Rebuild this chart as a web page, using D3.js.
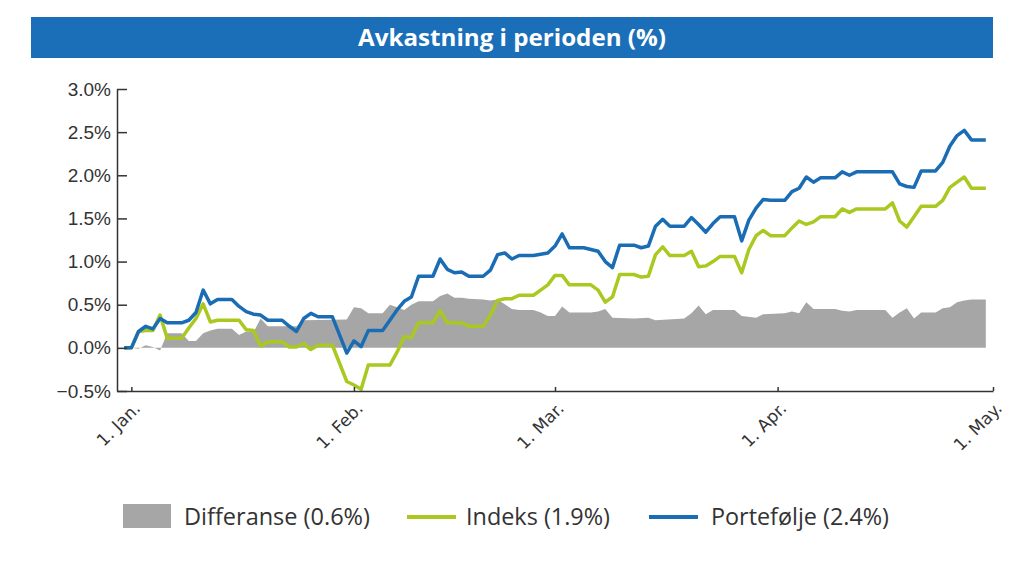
<!DOCTYPE html>
<html>
<head>
<meta charset="utf-8">
<script src="https://cdn.jsdelivr.net/npm/d3@7"></script>
<style>
  body { margin: 0; background: #fff; }
  svg { display: block; }
</style>
</head>
<body>
<svg id="chart" width="1024" height="561"></svg>
<script>
// chart data
const title = "Avkastning i perioden (%)";
const yTicks = [-0.5, 0, 0.5, 1, 1.5, 2, 2.5, 3];
const xTickDates = ["2017-01-01", "2017-02-01", "2017-03-01", "2017-04-01", "2017-05-01"];
const xTickLabels = ["1. Jan.", "1. Feb.", "1. Mar.", "1. Apr.", "1. May."];
const legendLabels = ["Differanse (0.6%)", "Indeks (1.9%)", "Portefølje (2.4%)"];

// Portefølje (blue)
const portDates = [
  "2016-12-31", "2017-01-01", "2017-01-02", "2017-01-03", "2017-01-04", "2017-01-05", "2017-01-06",
  "2017-01-08", "2017-01-09", "2017-01-10", "2017-01-11", "2017-01-12", "2017-01-13", "2017-01-15",
  "2017-01-16", "2017-01-17", "2017-01-18", "2017-01-19", "2017-01-20", "2017-01-22", "2017-01-23",
  "2017-01-24", "2017-01-25", "2017-01-26", "2017-01-27", "2017-01-29", "2017-01-31", "2017-02-01",
  "2017-02-02", "2017-02-03", "2017-02-05", "2017-02-07", "2017-02-08", "2017-02-09", "2017-02-10",
  "2017-02-12", "2017-02-13", "2017-02-14", "2017-02-15", "2017-02-16", "2017-02-17", "2017-02-19",
  "2017-02-20", "2017-02-21", "2017-02-22", "2017-02-23", "2017-02-24", "2017-02-26", "2017-02-28",
  "2017-03-01", "2017-03-02", "2017-03-03", "2017-03-05", "2017-03-07", "2017-03-08", "2017-03-09",
  "2017-03-10", "2017-03-12", "2017-03-13", "2017-03-14", "2017-03-15", "2017-03-16", "2017-03-17",
  "2017-03-19", "2017-03-20", "2017-03-21", "2017-03-22", "2017-03-23", "2017-03-24", "2017-03-26",
  "2017-03-27", "2017-03-28", "2017-03-29", "2017-03-30", "2017-03-31", "2017-04-02", "2017-04-03",
  "2017-04-04", "2017-04-05", "2017-04-06", "2017-04-07", "2017-04-09", "2017-04-10", "2017-04-11",
  "2017-04-12", "2017-04-17", "2017-04-18", "2017-04-19", "2017-04-20", "2017-04-21", "2017-04-23",
  "2017-04-24", "2017-04-25", "2017-04-26", "2017-04-27", "2017-04-28", "2017-04-30"
];
const portValues = [
  0.00, 0.00, 0.19, 0.25, 0.22, 0.34, 0.29,
  0.29, 0.32, 0.41, 0.67, 0.51, 0.56, 0.56,
  0.48, 0.42, 0.39, 0.38, 0.32, 0.32, 0.25,
  0.19, 0.34, 0.40, 0.36, 0.36, -0.06, 0.08,
  0.015, 0.20, 0.20, 0.44, 0.54, 0.59, 0.83,
  0.83, 1.03, 0.91, 0.87, 0.88, 0.83, 0.83,
  0.90, 1.08, 1.10, 1.03, 1.07, 1.07, 1.10,
  1.18, 1.32, 1.16, 1.16, 1.12, 1.00, 0.93,
  1.19, 1.19, 1.16, 1.18, 1.41, 1.49, 1.41,
  1.41, 1.51, 1.43, 1.34, 1.44, 1.52, 1.52,
  1.24, 1.48, 1.62, 1.72, 1.71, 1.71, 1.81,
  1.85, 1.98, 1.92, 1.97, 1.97, 2.04, 2.00,
  2.04, 2.04, 1.90, 1.87, 1.86, 2.05, 2.05,
  2.15, 2.34, 2.46, 2.52, 2.41, 2.41
];

// Indeks (green)
const indexDates = [
  "2016-12-31", "2017-01-01", "2017-01-02", "2017-01-03", "2017-01-04", "2017-01-05", "2017-01-06",
  "2017-01-08", "2017-01-09", "2017-01-10", "2017-01-11", "2017-01-12", "2017-01-13", "2017-01-16",
  "2017-01-17", "2017-01-18", "2017-01-19", "2017-01-20", "2017-01-22", "2017-01-23", "2017-01-24",
  "2017-01-25", "2017-01-26", "2017-01-27", "2017-01-29", "2017-01-31", "2017-02-01", "2017-02-02",
  "2017-02-03", "2017-02-06", "2017-02-07", "2017-02-08", "2017-02-09", "2017-02-10", "2017-02-12",
  "2017-02-13", "2017-02-14", "2017-02-16", "2017-02-17", "2017-02-19", "2017-02-20", "2017-02-21",
  "2017-02-22", "2017-02-23", "2017-02-24", "2017-02-26", "2017-02-27", "2017-02-28", "2017-03-01",
  "2017-03-02", "2017-03-03", "2017-03-06", "2017-03-07", "2017-03-08", "2017-03-09", "2017-03-10",
  "2017-03-12", "2017-03-13", "2017-03-14", "2017-03-15", "2017-03-16", "2017-03-17", "2017-03-19",
  "2017-03-20", "2017-03-21", "2017-03-22", "2017-03-23", "2017-03-24", "2017-03-26", "2017-03-27",
  "2017-03-28", "2017-03-29", "2017-03-30", "2017-03-31", "2017-04-02", "2017-04-03", "2017-04-04",
  "2017-04-05", "2017-04-06", "2017-04-07", "2017-04-09", "2017-04-10", "2017-04-11", "2017-04-12",
  "2017-04-16", "2017-04-17", "2017-04-18", "2017-04-19", "2017-04-20", "2017-04-21", "2017-04-23",
  "2017-04-24", "2017-04-25", "2017-04-26", "2017-04-27", "2017-04-28", "2017-04-30"
];
const indexValues = [
  0.00, 0.00, 0.19, 0.20, 0.20, 0.38, 0.11,
  0.11, 0.23, 0.34, 0.51, 0.30, 0.32, 0.32,
  0.21, 0.20, 0.02, 0.07, 0.07, 0.01, 0.01,
  0.05, -0.02, 0.03, 0.03, -0.39, -0.43, -0.48,
  -0.20, -0.20, -0.05, 0.13, 0.12, 0.29, 0.29,
  0.43, 0.29, 0.29, 0.25, 0.25, 0.38, 0.55,
  0.57, 0.57, 0.61, 0.61, 0.67, 0.73, 0.84,
  0.84, 0.73, 0.73, 0.67, 0.53, 0.59, 0.85,
  0.85, 0.82, 0.83, 1.08, 1.17, 1.07, 1.07,
  1.12, 0.94, 0.95, 1.00, 1.06, 1.06, 0.87,
  1.14, 1.30, 1.36, 1.30, 1.30, 1.39, 1.47,
  1.43, 1.46, 1.52, 1.52, 1.61, 1.57, 1.61,
  1.61, 1.68, 1.47, 1.40, 1.52, 1.64, 1.64,
  1.71, 1.86, 1.92, 1.98, 1.85, 1.85
];

// Differanse (grey area)
const diffDates = [
  "2016-12-31", "2017-01-01", "2017-01-02", "2017-01-03", "2017-01-04", "2017-01-05", "2017-01-06",
  "2017-01-08", "2017-01-09", "2017-01-10", "2017-01-11", "2017-01-12", "2017-01-13", "2017-01-15",
  "2017-01-16", "2017-01-17", "2017-01-18", "2017-01-19", "2017-01-20", "2017-01-24", "2017-01-25",
  "2017-01-31", "2017-02-01", "2017-02-02", "2017-02-03", "2017-02-05", "2017-02-06", "2017-02-07",
  "2017-02-08", "2017-02-09", "2017-02-10", "2017-02-12", "2017-02-13", "2017-02-14", "2017-02-15",
  "2017-02-16", "2017-02-17", "2017-02-19", "2017-02-20", "2017-02-21", "2017-02-23", "2017-02-24",
  "2017-02-26", "2017-02-27", "2017-02-28", "2017-03-01", "2017-03-02", "2017-03-03", "2017-03-06",
  "2017-03-07", "2017-03-08", "2017-03-09", "2017-03-12", "2017-03-14", "2017-03-15", "2017-03-19",
  "2017-03-20", "2017-03-21", "2017-03-22", "2017-03-23", "2017-03-26", "2017-03-27", "2017-03-29",
  "2017-03-30", "2017-04-02", "2017-04-03", "2017-04-04", "2017-04-05", "2017-04-06", "2017-04-09",
  "2017-04-10", "2017-04-11", "2017-04-12", "2017-04-16", "2017-04-17", "2017-04-18", "2017-04-19",
  "2017-04-20", "2017-04-21", "2017-04-23", "2017-04-24", "2017-04-25", "2017-04-26", "2017-04-27",
  "2017-04-28", "2017-04-30"
];
const diffValues = [
  0.00, 0.00, -0.01, 0.03, 0.01, -0.03, 0.17,
  0.17, 0.08, 0.08, 0.17, 0.20, 0.22, 0.22,
  0.15, 0.19, 0.18, 0.34, 0.25, 0.25, 0.32,
  0.33, 0.47, 0.46, 0.40, 0.40, 0.50, 0.47,
  0.44, 0.50, 0.54, 0.54, 0.60, 0.63, 0.58,
  0.58, 0.57, 0.56, 0.55, 0.56, 0.45, 0.44,
  0.44, 0.41, 0.37, 0.37, 0.48, 0.41, 0.41,
  0.42, 0.45, 0.35, 0.34, 0.35, 0.32, 0.34,
  0.40, 0.49, 0.39, 0.44, 0.44, 0.37, 0.35,
  0.39, 0.40, 0.42, 0.40, 0.53, 0.45, 0.45,
  0.43, 0.42, 0.44, 0.44, 0.35, 0.41, 0.46,
  0.34, 0.41, 0.41, 0.46, 0.47, 0.53, 0.55,
  0.56, 0.56
];

const colors = { diff: "#a6a6a6", index: "#a9c820", port: "#1a6db4", bar: "#1a6fb8", text: "#333333" };

const parse = d3.timeParse("%Y-%m-%d");
function zipSeries(dates, values) {
  return dates.map(function (d, i) { return { date: parse(d), v: values[i] }; });
}
const port = zipSeries(portDates, portValues);
const index = zipSeries(indexDates, indexValues);
const diff = zipSeries(diffDates, diffValues);

const svg = d3.select("#chart");

// title bar
svg.append("rect")
  .attr("x", 31).attr("y", 17).attr("width", 962).attr("height", 41)
  .attr("fill", colors.bar);
svg.append("text")
  .attr("x", 512).attr("y", 46)
  .attr("text-anchor", "middle")
  .attr("textLength", 308).attr("lengthAdjust", "spacingAndGlyphs")
  .style("font-family", "'Open Sans', sans-serif")
  .style("font-weight", 700)
  .style("font-size", "24px")
  .attr("fill", "#fff")
  .text(title);

// scales
const x = d3.scaleTime()
  .domain([parse("2016-12-30"), parse("2017-05-01")])
  .range([117, 993]);
const y = d3.scaleLinear()
  .domain([-0.5, 3])
  .range([391, 89]);

// grey difference area
const area = d3.area()
  .x(function (d) { return x(d.date); })
  .y0(y(0))
  .y1(function (d) { return y(d.v); });
svg.append("path")
  .datum(diff)
  .attr("d", area)
  .attr("fill", colors.diff);

// lines
const line = d3.line()
  .x(function (d) { return x(d.date); })
  .y(function (d) { return y(d.v); });
svg.append("path")
  .datum(index)
  .attr("d", line)
  .attr("fill", "none")
  .attr("stroke", colors.index)
  .attr("stroke-width", 3.5)
  .attr("stroke-linejoin", "round");
svg.append("path")
  .datum(port)
  .attr("d", line)
  .attr("fill", "none")
  .attr("stroke", colors.port)
  .attr("stroke-width", 3.5)
  .attr("stroke-linejoin", "round");

// y axis
const yAxis = svg.append("g")
  .attr("transform", "translate(117,0)")
  .call(d3.axisLeft(y)
    .tickValues(yTicks)
    .tickSizeInner(-10)
    .tickSizeOuter(0)
    .tickPadding(6)
    .tickFormat(function (d) { return d3.format(".1f")(d) + "%"; }));
yAxis.selectAll("path, line").attr("stroke", "#333").attr("stroke-width", 1.5);
yAxis.selectAll("text")
  .style("font-family", "'Liberation Sans', Arial, sans-serif")
  .style("font-size", "19px")
  .attr("fill", colors.text);

// x axis
const xAxis = svg.append("g")
  .attr("transform", "translate(0,391)")
  .call(d3.axisBottom(x)
    .tickValues(xTickDates.map(parse))
    .tickSizeInner(-4)
    .tickSizeOuter(0)
    .tickFormat(function (d, i) { return xTickLabels[i]; }));
xAxis.selectAll("path, line").attr("stroke", "#333").attr("stroke-width", 1.5);
xAxis.selectAll("text")
  .attr("x", 0).attr("y", 0).attr("dy", "0.71em")
  .attr("transform", "translate(1,10) rotate(-45)")
  .style("text-anchor", "end")
  .style("font-family", "'DejaVu Sans', Verdana, sans-serif")
  .style("font-size", "17px")
  .attr("fill", colors.text);

// legend
const legend = svg.append("g")
  .style("font-family", "'Open Sans', sans-serif")
  .style("font-size", "23px")
  .attr("fill", colors.text);
legend.append("rect")
  .attr("x", 123).attr("y", 504).attr("width", 48).attr("height", 24)
  .attr("fill", colors.diff);
legend.append("line")
  .attr("x1", 407).attr("x2", 456).attr("y1", 517).attr("y2", 517)
  .attr("stroke", colors.index).attr("stroke-width", 4);
legend.append("line")
  .attr("x1", 649).attr("x2", 698).attr("y1", 517).attr("y2", 517)
  .attr("stroke", colors.port).attr("stroke-width", 4);
const legendPos = [{ x: 184, w: 186 }, { x: 466, w: 144 }, { x: 711, w: 178 }];
legend.selectAll("text.lab")
  .data(legendLabels)
  .enter().append("text")
  .attr("class", "lab")
  .attr("x", function (d, i) { return legendPos[i].x; })
  .attr("y", 525)
  .attr("textLength", function (d, i) { return legendPos[i].w; })
  .attr("lengthAdjust", "spacingAndGlyphs")
  .text(function (d) { return d; });
</script>
</body>
</html>
